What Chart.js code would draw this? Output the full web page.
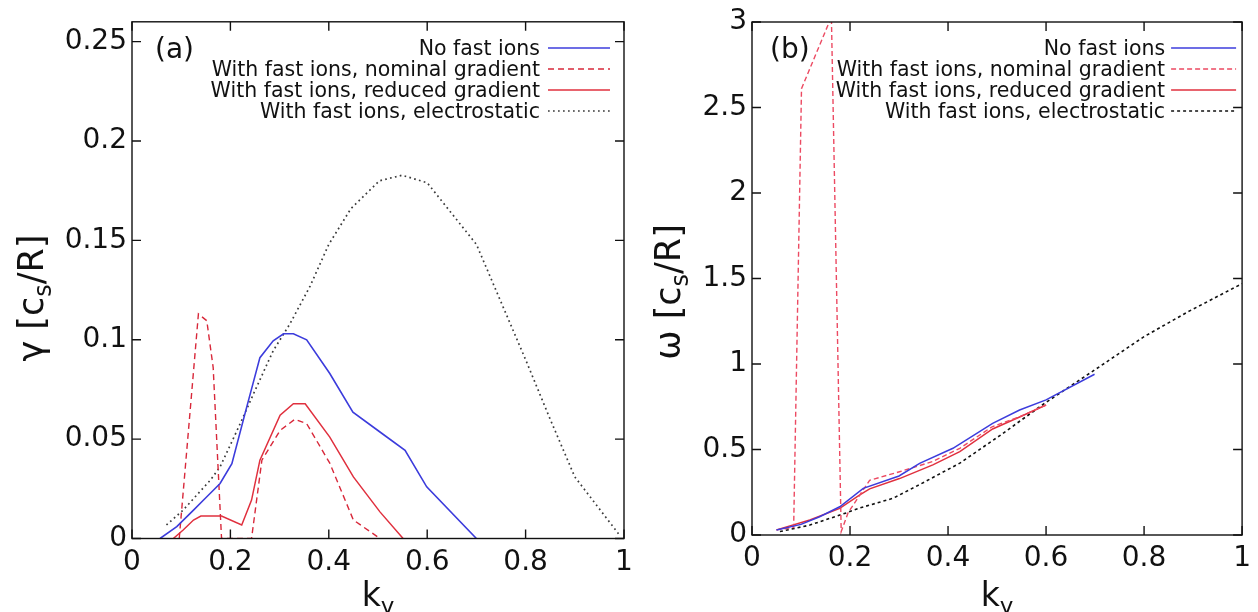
<!DOCTYPE html>
<html>
<head>
<meta charset="utf-8">
<script src="https://cdn.jsdelivr.net/npm/chart.js@4.4.1/dist/chart.umd.min.js"></script>
<style>
  html, body { margin: 0; padding: 0; background: #fff; }
  #wrapA { position: absolute; left: 0; top: 0; width: 640px; height: 612px; }
  #wrapB { position: absolute; left: 640px; top: 0; width: 618px; height: 612px; }
</style>
</head>
<body>
<div id="wrapA"><canvas id="chartA"></canvas></div>
<div id="wrapB"><canvas id="chartB"></canvas></div>
<script>
// tick values and labels
const kTicks = [0, 0.2, 0.4, 0.6, 0.8, 1];
const kTickLabels = ["0", "0.2", "0.4", "0.6", "0.8", "1"];
const gammaTicks = [0, 0.05, 0.1, 0.15, 0.2, 0.25];
const gammaTickLabels = ["0", "0.05", "0.1", "0.15", "0.2", "0.25"];
const omegaTicks = [0, 0.5, 1, 1.5, 2, 2.5, 3];
const omegaTickLabels = ["0", "0.5", "1", "1.5", "2", "2.5", "3"];

const seriesNames = [
  "No fast ions",
  "With fast ions, nominal gradient",
  "With fast ions, reduced gradient",
  "With fast ions, electrostatic",
];
const panelLabels = ["(a)", "(b)"];
const xTitle = [["k", false], ["y", true]];
const gammaTitle = [["\u03b3 [c", false], ["s", true], ["/R]", false]];
const omegaTitle = [["\u03c9 [c", false], ["s", true], ["/R]", false]];

// (a) growth rate gamma vs k_y
const kNoFastA = [0.057, 0.091, 0.125, 0.148, 0.179, 0.203, 0.233, 0.26, 0.287, 0.308, 0.328, 0.355, 0.402, 0.449, 0.504, 0.555, 0.599, 0.7];
const gNoFastA = [0, 0.006, 0.0143, 0.02, 0.0277, 0.0377, 0.066, 0.091, 0.0995, 0.103, 0.103, 0.1, 0.083, 0.0636, 0.0536, 0.0444, 0.026, 0];
const kNominalA = [0.096, 0.135, 0.152, 0.165, 0.182, 0.243, 0.264, 0.301, 0.331, 0.355, 0.402, 0.45, 0.504];
const gNominalA = [0, 0.113, 0.1096, 0.086, 0, 0, 0.0394, 0.0544, 0.06, 0.0578, 0.0379, 0.0093, 0];
const kReducedA = [0.084, 0.104, 0.125, 0.14, 0.182, 0.223, 0.243, 0.26, 0.301, 0.328, 0.352, 0.402, 0.45, 0.504, 0.551];
const gReducedA = [0, 0.0043, 0.0093, 0.0113, 0.0113, 0.0068, 0.0193, 0.0394, 0.062, 0.0678, 0.0678, 0.051, 0.031, 0.0134, 0];
const kElectroA = [0.07, 0.104, 0.159, 0.179, 0.22, 0.247, 0.287, 0.321, 0.362, 0.4, 0.445, 0.503, 0.549, 0.6, 0.7, 0.8, 0.85, 0.9, 0.99];
const gElectroA = [0.0068, 0.0143, 0.0293, 0.036, 0.0578, 0.0728, 0.0945, 0.108, 0.127, 0.148, 0.166, 0.18, 0.1828, 0.179, 0.148, 0.09, 0.06, 0.031, 0.002];

// (b) real frequency omega vs k_y
const kNoFastB = [0.05, 0.1, 0.138, 0.179, 0.227, 0.3, 0.342, 0.41, 0.491, 0.546, 0.6, 0.699];
const wNoFastB = [0.029, 0.062, 0.107, 0.165, 0.273, 0.345, 0.419, 0.507, 0.653, 0.731, 0.79, 0.94];
const kNominalB = [0.05, 0.085, 0.101, 0.162, 0.182, 0.196, 0.24, 0.301, 0.369, 0.424, 0.49, 0.545, 0.6];
const wNominalB = [0.03, 0.045, 2.61, 3.03, 0.02, 0.13, 0.32, 0.37, 0.43, 0.507, 0.633, 0.69, 0.76];
const kReducedB = [0.05, 0.118, 0.179, 0.22, 0.24, 0.301, 0.369, 0.424, 0.491, 0.546, 0.6];
const wReducedB = [0.03, 0.088, 0.156, 0.234, 0.27, 0.33, 0.41, 0.487, 0.62, 0.69, 0.76];
const kElectroB = [0.057, 0.118, 0.193, 0.22, 0.288, 0.342, 0.424, 0.505, 0.597, 0.699, 0.8, 0.89, 1.0];
const wElectroB = [0.02, 0.058, 0.13, 0.158, 0.215, 0.295, 0.42, 0.58, 0.77, 0.965, 1.16, 1.306, 1.47];

const FONT = "'DejaVu Sans', sans-serif";

function pts(ks, vs) {
  return ks.map((k, i) => ({ x: k, y: vs[i] }));
}

// box border with inward ticks on all four sides (gnuplot style)
const framePlugin = {
  id: "frame",
  afterDatasetsDraw(chart) {
    const { ctx, chartArea: a, scales } = chart;
    const len = 9;
    ctx.save();
    ctx.strokeStyle = "#111";
    ctx.lineWidth = 1.4;
    ctx.setLineDash([]);
    ctx.strokeRect(a.left, a.top, a.right - a.left, a.bottom - a.top);
    ctx.beginPath();
    scales.x.ticks.forEach((t) => {
      const px = scales.x.getPixelForValue(t.value);
      ctx.moveTo(px, a.bottom);
      ctx.lineTo(px, a.bottom - len);
      ctx.moveTo(px, a.top);
      ctx.lineTo(px, a.top + len);
    });
    scales.y.ticks.forEach((t) => {
      const py = scales.y.getPixelForValue(t.value);
      ctx.moveTo(a.left, py);
      ctx.lineTo(a.left + len, py);
      ctx.moveTo(a.right, py);
      ctx.lineTo(a.right - len, py);
    });
    ctx.stroke();
    ctx.restore();
  },
};

function drawParts(ctx, parts, x, y, size, subSize, subShift) {
  let total = 0;
  const widths = parts.map(([txt, sub]) => {
    ctx.font = (sub ? subSize : size) + "px " + FONT;
    const w = ctx.measureText(txt).width;
    total += w;
    return w;
  });
  let cx = x - total / 2;
  parts.forEach(([txt, sub], i) => {
    ctx.font = (sub ? subSize : size) + "px " + FONT;
    ctx.fillText(txt, cx, y + (sub ? subShift : 0));
    cx += widths[i];
  });
}

// key, panel label and axis titles
const textPlugin = {
  id: "gnutext",
  afterDraw(chart, args, o) {
    const { ctx, chartArea: a } = chart;
    ctx.save();
    ctx.fillStyle = "#111";
    ctx.textAlign = "left";
    ctx.textBaseline = "alphabetic";

    ctx.font = "28px " + FONT;
    ctx.fillText(o.panel, o.panelX, o.panelY);

    chart.data.datasets.forEach((ds, i) => {
      const y = o.rowY + i * o.rowStep;
      ctx.font = "20.5px " + FONT;
      ctx.textAlign = "right";
      ctx.fillStyle = "#111";
      ctx.fillText(ds.label, a.right - o.textGap, y + 7);
      ctx.strokeStyle = ds.borderColor;
      ctx.lineWidth = ds.borderWidth;
      ctx.setLineDash(ds.borderDash || []);
      ctx.beginPath();
      ctx.moveTo(a.right - o.lineFrom, y);
      ctx.lineTo(a.right - o.lineTo, y);
      ctx.stroke();
    });
    ctx.setLineDash([]);
    ctx.textAlign = "left";
    ctx.fillStyle = "#111";

    drawParts(ctx, xTitle, (a.left + a.right) / 2, 606, 33, 23, 8);

    ctx.translate(o.yTitleX, o.yTitleY);
    ctx.rotate(-Math.PI / 2);
    drawParts(ctx, o.yTitle, 0, 0, 35, 24, 8);
    ctx.restore();
  },
};

function makeScales(yMax, yTicks, yLabels, yWidth, xHeight) {
  const tickFont = { family: FONT, size: 28 };
  return {
    x: {
      type: "linear",
      min: 0,
      max: 1,
      afterBuildTicks: (s) => { s.ticks = kTicks.map((v) => ({ value: v })); },
      afterFit: (s) => { s.height = xHeight; },
      grid: { display: false, drawTicks: false },
      border: { display: false },
      ticks: {
        padding: 7,
        color: "#111",
        font: tickFont,
        maxRotation: 0,
        autoSkip: false,
        callback: (v, i) => kTickLabels[i],
      },
    },
    y: {
      type: "linear",
      min: 0,
      max: yMax,
      afterBuildTicks: (s) => { s.ticks = yTicks.map((v) => ({ value: v })); },
      afterFit: (s) => { s.width = yWidth; },
      grid: { display: false, drawTicks: false },
      border: { display: false },
      ticks: {
        padding: 5,
        color: "#111",
        font: tickFont,
        autoSkip: false,
        callback: (v, i) => yLabels[i],
      },
    },
  };
}

function line(label, data, color, width, dash) {
  return {
    label: label,
    data: data,
    showLine: true,
    borderColor: color,
    backgroundColor: color,
    borderWidth: width,
    borderDash: dash,
    pointRadius: 0,
    tension: 0,
    fill: false,
  };
}

new Chart(document.getElementById("chartA").getContext("2d"), {
  type: "scatter",
  data: {
    datasets: [
      line(seriesNames[0], pts(kNoFastA, gNoFastA), "#3c3cdc", 1.6, []),
      line(seriesNames[1], pts(kNominalA, gNominalA), "#d8283a", 1.4, [6, 4]),
      line(seriesNames[2], pts(kReducedA, gReducedA), "#e0303e", 1.5, []),
      line(seriesNames[3], pts(kElectroA, gElectroA), "#3a3a3a", 1.7, [1.7, 3.3]),
    ],
  },
  options: {
    responsive: true,
    maintainAspectRatio: false,
    animation: false,
    layout: { padding: { top: 20, right: 16, bottom: 0, left: 0 } },
    scales: makeScales(0.26, gammaTicks, gammaTickLabels, 132, 73.5),
    plugins: {
      legend: { display: false },
      tooltip: { enabled: false },
      gnutext: {
        panel: panelLabels[0], panelX: 155, panelY: 58,
        rowY: 48, rowStep: 21, textGap: 84, lineFrom: 76, lineTo: 14,
        yTitle: gammaTitle, yTitleX: 43, yTitleY: 298,
      },
    },
  },
  plugins: [framePlugin, textPlugin],
});

new Chart(document.getElementById("chartB").getContext("2d"), {
  type: "scatter",
  data: {
    datasets: [
      line(seriesNames[0], pts(kNoFastB, wNoFastB), "#3c3cdc", 1.5, []),
      line(seriesNames[1], pts(kNominalB, wNominalB), "#ec4a62", 1.4, [5, 3]),
      line(seriesNames[2], pts(kReducedB, wReducedB), "#e0303e", 1.5, []),
      line(seriesNames[3], pts(kElectroB, wElectroB), "#111111", 1.6, [3, 3]),
    ],
  },
  options: {
    responsive: true,
    maintainAspectRatio: false,
    animation: false,
    layout: { padding: { top: 22, right: 15, bottom: 0, left: 0 } },
    scales: makeScales(3, omegaTicks, omegaTickLabels, 112, 77),
    plugins: {
      legend: { display: false },
      tooltip: { enabled: false },
      gnutext: {
        panel: panelLabels[1], panelX: 130, panelY: 58,
        rowY: 48, rowStep: 21, textGap: 77, lineFrom: 71, lineTo: 6,
        yTitle: omegaTitle, yTitleX: 40, yTitleY: 292,
      },
    },
  },
  plugins: [framePlugin, textPlugin],
});
</script>
</body>
</html>
